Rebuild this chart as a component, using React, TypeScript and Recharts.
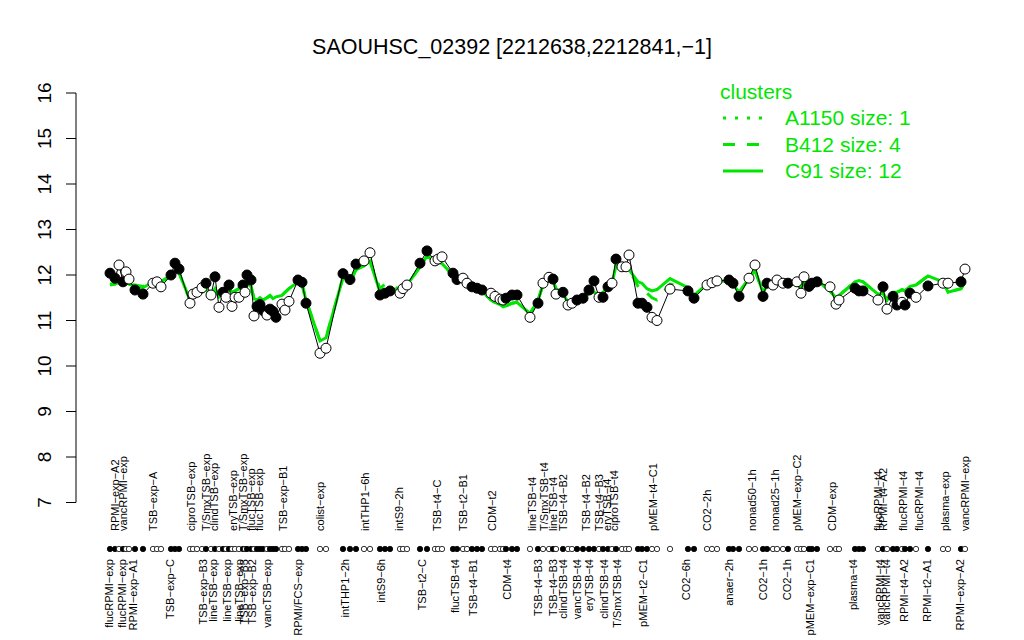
import React from 'react';
import { ComposedChart, Line, Scatter, XAxis, YAxis, ReferenceLine } from 'recharts';

// positions of samples along the x axis (plot units)
const sampleX = [
  110, 115, 119, 123, 126, 129, 135, 143, 153, 157, 161, 171, 175, 179, 190, 193, 197,
  202, 206, 211, 215, 219, 223, 226, 229, 232, 235, 239, 243, 245, 247, 251, 254, 257,
  260, 263, 267, 270, 273, 276, 282, 285, 289, 298, 302, 306, 320, 326, 343, 350, 356,
  364, 370, 380, 385, 390, 400, 403, 407, 420, 427, 435, 438, 442, 453, 457, 463, 467,
  472, 477, 482, 491, 495, 500, 503, 506, 512, 517, 530, 538, 543, 549, 553, 556, 563,
  568, 572, 577, 583, 589, 594, 599, 603, 608, 612, 616, 622, 626, 629, 638, 642, 647,
  652, 657, 670, 688, 694, 707, 712, 717, 729, 733, 739, 749, 755, 763, 767, 773, 777,
  783, 788, 797, 801, 804, 809, 812, 817, 830, 836, 839, 855, 859, 863, 878, 883, 887,
  893, 897, 902, 905, 910, 916, 928, 943, 948, 961, 965,
];

// expression of SAOUHSC_02392
const expr = [
  12.04, 11.93, 12.22, 11.85, 12.07, 11.91, 11.67, 11.58, 11.82, 11.85, 11.74, 12.0, 12.26, 12.13, 11.38, 11.58, 11.62,
  11.72, 11.82, 11.56, 11.96, 11.29, 11.62, 11.51, 11.78, 11.31, 11.51, 11.51, 11.78, 11.62, 12.0, 11.89, 11.1, 11.31,
  11.35, 11.22, 11.12, 11.25, 11.2, 11.07, 11.36, 11.23, 11.42, 11.89, 11.84, 11.38, 10.28, 10.39, 12.03, 11.9, 12.24,
  12.31, 12.49, 11.56, 11.6, 11.65, 11.6, 11.7, 11.78, 12.26, 12.53, 12.31, 12.35, 12.4, 12.04, 11.9, 11.93, 11.82,
  11.74, 11.71, 11.67, 11.6, 11.53, 11.47, 11.45, 11.49, 11.56, 11.56, 11.07, 11.38, 11.82, 11.95, 11.91, 11.58, 11.62,
  11.34, 11.38, 11.45, 11.49, 11.67, 11.87, 11.51, 11.51, 11.74, 11.82, 12.35, 12.18, 12.18, 12.44, 11.38, 11.38, 11.29,
  11.07, 11.0, 11.69, 11.65, 11.49, 11.78, 11.83, 11.87, 11.89, 11.82, 11.53, 11.93, 12.22, 11.53, 11.82, 11.78, 11.89,
  11.82, 11.82, 11.85, 11.6, 11.96, 11.75, 11.82, 11.85, 11.74, 11.36, 11.45, 11.71, 11.65, 11.65, 11.45, 11.74, 11.25,
  11.53, 11.34, 11.4, 11.34, 11.6, 11.51, 11.76, 11.82, 11.82, 11.85, 12.13,
];

// 1 = filled point, 0 = open point
const filled = [
  1, 1, 0, 1, 0, 0, 1, 1, 0, 0, 0, 1, 1, 1, 0, 0, 0,
  0, 1, 0, 1, 0, 1, 0, 1, 0, 0, 0, 1, 0, 1, 1, 0, 1,
  1, 1, 0, 1, 1, 1, 0, 0, 0, 1, 1, 1, 0, 0, 1, 1, 1,
  0, 0, 1, 1, 1, 0, 0, 0, 1, 1, 0, 0, 0, 1, 1, 0, 0,
  1, 1, 1, 0, 0, 0, 0, 1, 1, 1, 0, 1, 0, 0, 1, 0, 1,
  0, 0, 1, 1, 1, 1, 0, 1, 1, 0, 1, 0, 0, 0, 1, 1, 1,
  0, 0, 0, 1, 1, 0, 0, 0, 1, 1, 1, 0, 0, 1, 1, 0, 0,
  0, 1, 0, 0, 0, 1, 1, 1, 0, 0, 0, 1, 1, 1, 0, 1, 0,
  1, 1, 0, 1, 1, 0, 1, 0, 0, 1, 0,
];

// cluster C91 mean profile
const c91 = [
  11.78, 11.8, 11.85, 11.82, 11.85, 11.8, 11.75, 11.72, 11.85, 11.88, 11.85, 11.98, 12.08, 12.05, 11.45, 11.55, 11.6,
  11.62, 11.68, 11.55, 11.7, 11.52, 11.58, 11.6, 11.7, 11.62, 11.65, 11.7, 11.75, 11.78, 11.85, 11.75, 11.48, 11.45,
  11.5, 11.45, 11.5, 11.55, 11.48, 11.52, 11.55, 11.62, 11.7, 11.85, 11.8, 11.45, 10.55, 10.62, 11.95, 11.85, 12.12,
  12.2, 12.3, 11.62, 11.65, 11.68, 11.7, 11.72, 11.78, 12.18, 12.42, 12.3, 12.28, 12.25, 12.0, 11.95, 11.92, 11.85,
  11.8, 11.72, 11.65, 11.45, 11.4, 11.35, 11.3, 11.32, 11.38, 11.4, 11.15, 11.45, 11.78, 11.9, 11.88, 11.7, 11.58,
  11.4, 11.38, 11.42, 11.48, 11.6, 11.62, 11.55, 11.62, 11.72, 11.82, 12.2, 12.18, 12.15, 12.12, 11.85, 11.82, 11.7,
  11.65, 11.68, 11.92, 11.72, 11.55, 11.8, 11.85, 11.85, 11.88, 11.8, 11.62, 11.92, 12.1, 11.62, 11.78, 11.82, 11.85,
  11.82, 11.8, 11.8, 11.72, 11.85, 11.82, 11.88, 11.88, 11.65, 11.5, 11.55, 11.85, 11.88, 11.85, 11.58, 11.6, 11.45,
  11.62, 11.62, 11.68, 11.65, 11.75, 11.78, 11.98, 11.85, 11.62, 11.7, 11.85,
];

// cluster B412 mean profile
const b412 = [
  11.8, 11.8, 11.85, 11.8, 11.82, 11.8, 11.78, 11.75, 11.82, 11.85, 11.85, 12.0, 12.1, 12.05, 11.45, 11.55, 11.62,
  11.62, 11.68, 11.55, 11.7, 11.52, 11.58, 11.6, 11.7, 11.62, 11.65, 11.7, 11.75, 11.78, 11.85, 11.75, 11.48, 11.45,
  11.5, 11.45, 11.5, 11.55, 11.48, 11.52, 11.55, 11.62, 11.7, 11.85, 11.8, 11.45, 10.55, 10.62, 11.95, 11.85, 12.12,
  12.2, 12.3, 11.7, 11.8, 11.75, 11.7, 11.72, 11.78, 12.18, 12.42, 12.3, 12.28, 12.25, 12.0, 11.95, 11.92, 11.85,
  11.8, 11.72, 11.65, 11.45, 11.4, 11.35, 11.3, 11.32, 11.38, 11.4, 11.15, 11.45, 11.78, 11.9, 11.88, 11.7, 11.58,
  11.4, 11.38, 11.42, 11.48, 11.6, 11.62, 11.55, 11.62, 11.72, 11.82, 12.2, 12.18, 12.15, 12.12, 11.75, 11.62, 11.6,
  11.5, 11.45, 11.8, 11.7, 11.55, 11.8, 11.85, 11.85, 11.88, 11.8, 11.62, 11.92, 12.1, 11.62, 11.78, 11.82, 11.85,
  11.82, 11.8, 11.8, 11.72, 11.85, 11.82, 11.88, 11.88, 11.65, 11.5, 11.55, 11.85, 11.88, 11.85, 11.58, 11.6, 11.45,
  11.62, 11.62, 11.68, 11.65, 11.75, 11.78, 11.98, 11.85, 11.62, 11.7, 11.85,
];

const topLabelX = [
  115, 123, 153, 191, 206, 214, 233, 243, 251, 259, 283, 320, 365, 399, 437, 463, 492, 532, 544,
  553, 563, 586, 599, 607, 614, 653, 707, 752, 775, 797, 832, 878, 883, 903, 919, 945, 965,
];
const topLabelText = [
  'RPMI-exp-A2', 'vancRPMI-exp', 'TSB-exp-A', 'ciproTSB-exp', 'T/SmxTSB-exp', 'clindTSB-exp', 'eryTSB-exp',
  'T/SmxTSB-exp', 'flucTSB-exp', 'flucTSB-exp', 'TSB-exp-B1', 'colist-exp', 'intTHP1-6h', 'intS9-2h', 'TSB-t4-C',
  'TSB-t2-B1', 'CDM-t2', 'lineTSB-t4', 'T/SmxTSB-t4', 'lineTSB-t4', 'TSB-t4-B2', 'TSB-t4-B2', 'TSB-t4-B3',
  'eryTSB-t4', 'ciproTSB-t4', 'pMEM-t4-C1', 'CO2-2h', 'nonad50-1h', 'nonad25-1h', 'pMEM-exp-C2', 'CDM-exp',
  'flucRPMI-t4', 'RPMI-t4-A2', 'flucRPMI-t4', 'flucRPMI-t4', 'plasma-exp', 'vancRPMI-exp',
];

const bottomLabelX = [
  109, 122, 133, 170, 203, 213, 227, 239, 244, 252, 267, 298, 345, 381, 422, 455, 473, 507, 538,
  553, 563, 577, 589, 604, 617, 643, 686, 729, 763, 787, 810, 853, 880, 886, 904, 927, 960,
];
const bottomLabelText = [
  'flucRPMI-exp', 'flucRPMI-exp', 'RPMI-exp-A1', 'TSB-exp-C', 'TSB-exp-B3', 'lineTSB-exp', 'lineTSB-exp',
  'lineTSB-exp', 'TSB-exp-B3', 'TSB-exp-B2', 'vancTSB-exp', 'RPMI/FCS-exp', 'intTHP1-2h', 'intS9-6h', 'TSB-t2-C',
  'flucTSB-t4', 'TSB-t4-B1', 'CDM-t4', 'TSB-t4-B3', 'TSB-t4-B3', 'clindTSB-t4', 'vancTSB-t4', 'eryTSB-t4',
  'clindTSB-t4', 'T/SmxTSB-t4', 'pMEM-t2-C1', 'CO2-6h', 'anaer-2h', 'CO2-1h', 'CO2-1h', 'pMEM-exp-C1',
  'plasma-t4', 'vancRPMI-t4', 'vancRPMI-t4', 'RPMI-t4-A2', 'RPMI-t2-A1', 'RPMI-exp-A2',
];

const yTicks = [7, 8, 9, 10, 11, 12, 13, 14, 15, 16];

const legendNames = ['A1150 size: 1', 'B412 size: 4', 'C91 size: 12'];
const legendDash = ['3 9', '12 12', ''];

const TITLE = 'SAOUHSC_02392 [2212638,2212841,-1]';

const GREEN = '#00e600';
const FONT = '"Liberation Sans", Arial, Helvetica, sans-serif';
// levels (in y-axis units) of the rug row and label rows below the plot
const RUG_LEVEL = 5.978;
const TOP_LABEL_LEVEL = 6.374;
const BOTTOM_LABEL_LEVEL = 5.758;

const fix = (s: string) => s.replace(/-/g, '\u2212');

const rows = sampleX.map((x, i) => ({ x, expr: expr[i], c91: c91[i], b412: b412[i], filled: filled[i] }));
const rugRows = sampleX.map((x, i) => ({ x, y: RUG_LEVEL, filled: filled[i] }));
const topRows = topLabelX.map((x, i) => ({ x, y: TOP_LABEL_LEVEL, text: topLabelText[i] }));
const bottomRows = bottomLabelX.map((x, i) => ({ x, y: BOTTOM_LABEL_LEVEL, text: bottomLabelText[i] }));

const renderDot = (p: any) => (
  <circle
    key={`pt${p.index}`}
    cx={p.cx}
    cy={p.cy}
    r={5}
    fill={p.payload.filled ? '#000' : '#fff'}
    stroke="#000"
    strokeWidth={1}
  />
);

const rugShape = (p: any) => (
  <circle cx={p.cx} cy={p.cy} r={2.7} fill={p.payload.filled ? '#000' : '#fff'} stroke="#000" strokeWidth={0.8} />
);

const makeLabelShape = (anchor: 'start' | 'end') => (p: any) => (
  <text
    x={p.cx}
    y={p.cy}
    dy="0.36em"
    transform={`rotate(-90 ${p.cx} ${p.cy})`}
    textAnchor={anchor}
    fontSize={11}
    fontFamily={FONT}
    fill="#000"
  >
    {fix(p.payload.text)}
  </text>
);

const yTick = (p: any) => {
  const bx = p.x - 13;
  return (
    <text
      x={bx}
      y={p.y}
      transform={`rotate(-90 ${bx} ${p.y})`}
      textAnchor="middle"
      fontSize={19}
      fontFamily={FONT}
      fill="#000"
    >
      {p.payload.value}
    </text>
  );
};

export default function App() {
  return (
    <div style={{ position: 'absolute', left: 0, top: 0, width: 1024, height: 640, background: '#fff' }}>
      <ComposedChart
        width={1024}
        height={640}
        data={rows}
        margin={{ top: 93, right: 44, bottom: 1, left: 0 }}
      >
        <XAxis dataKey="x" type="number" domain={[76, 980]} hide allowDataOverflow />
        <YAxis
          type="number"
          domain={[4, 16]}
          ticks={yTicks}
          width={76}
          axisLine={false}
          tickSize={10}
          tickLine={{ stroke: '#000', strokeWidth: 1 }}
          tick={yTick}
          interval={0}
          allowDataOverflow
        />
        <ReferenceLine
          segment={[{ x: 76, y: 7 }, { x: 76, y: 16 }]}
          stroke="#000"
          strokeWidth={1}
          ifOverflow="visible"
        />
        <Line
          dataKey="b412"
          type="linear"
          stroke={GREEN}
          strokeWidth={3}
          strokeDasharray="12 12"
          dot={false}
          activeDot={false}
          isAnimationActive={false}
        />
        <Line
          dataKey="c91"
          type="linear"
          stroke={GREEN}
          strokeWidth={3}
          dot={false}
          activeDot={false}
          isAnimationActive={false}
        />
        <Line
          dataKey="expr"
          type="linear"
          stroke="#000"
          strokeWidth={1}
          dot={renderDot}
          activeDot={false}
          isAnimationActive={false}
        />
        <Scatter data={rugRows} dataKey="y" shape={rugShape} isAnimationActive={false} />
        <Scatter data={topRows} dataKey="y" shape={makeLabelShape('start')} isAnimationActive={false} />
        <Scatter data={bottomRows} dataKey="y" shape={makeLabelShape('end')} isAnimationActive={false} />
      </ComposedChart>
      <svg
        width={1024}
        height={640}
        style={{ position: 'absolute', left: 0, top: 0, pointerEvents: 'none' }}
      >
        <text x={512} y={54} textAnchor="middle" fontSize={21.5} fontFamily={FONT} fill="#000">
          {fix(TITLE)}
        </text>
        <text x={720} y={99} fontSize={21} fontFamily={FONT} fill={GREEN}>
          clusters
        </text>
        {legendNames.map((name, i) => (
          <g key={name}>
            <line
              x1={723}
              x2={763}
              y1={118 + i * 26.5}
              y2={118 + i * 26.5}
              stroke={GREEN}
              strokeWidth={3}
              strokeDasharray={legendDash[i] || undefined}
            />
            <text x={785} y={125 + i * 26.5} fontSize={21} fontFamily={FONT} fill={GREEN}>
              {name}
            </text>
          </g>
        ))}
      </svg>
    </div>
  );
}
